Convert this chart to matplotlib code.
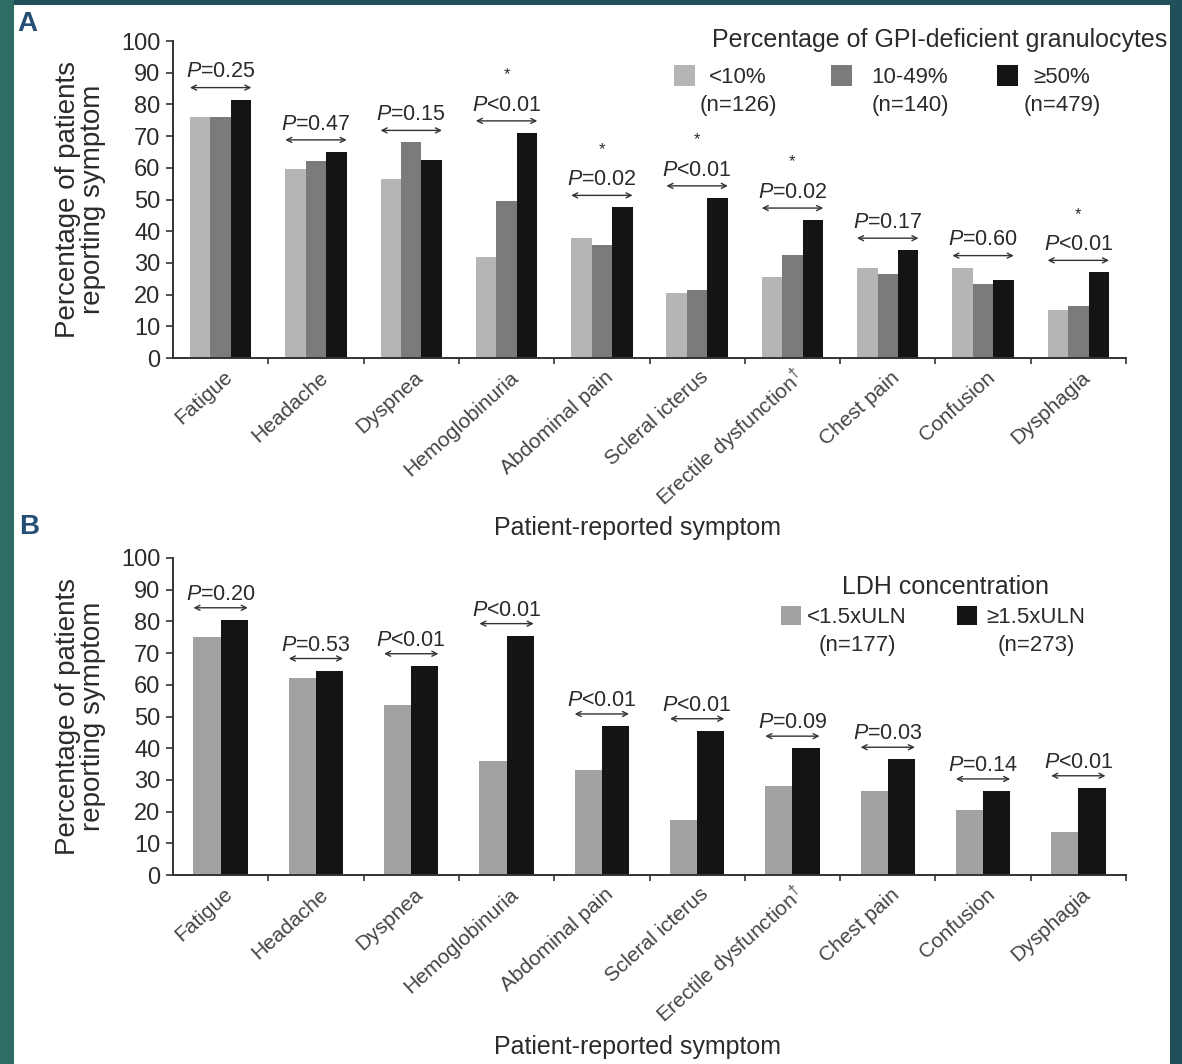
import numpy as np
import matplotlib
matplotlib.use("Agg")
import matplotlib.pyplot as plt
from matplotlib.patches import Rectangle
import matplotlib.transforms as mtransforms

plt.rcParams['font.family'] = ['Liberation Sans', 'DejaVu Sans']
plt.rcParams['mathtext.fontset'] = 'custom'
plt.rcParams['mathtext.rm'] = 'Liberation Sans'
plt.rcParams['mathtext.it'] = 'Liberation Sans:italic'

symptoms = ['Fatigue', 'Headache', 'Dyspnea', 'Hemoglobinuria', 'Abdominal pain',
            'Scleral icterus', r'Erectile dysfunction$^{\dagger}$', 'Chest pain',
            'Confusion', 'Dysphagia']

# panel A: % GPI-deficient granulocytes
gpi_low = [76, 59.5, 56.5, 32, 38, 20.5, 25.5, 28.5, 28.5, 15]
gpi_mid = [76, 62, 68, 49.5, 35.5, 21.5, 32.5, 26.5, 23.5, 16.5]
gpi_high = [81.5, 65, 62.5, 71, 47.5, 50.5, 43.5, 34, 24.5, 27]
pvals_a = ['=0.25', '=0.47', '=0.15', '<0.01', '=0.02', '<0.01', '=0.02', '=0.17', '=0.60', '<0.01']
star_a = [0, 0, 0, 1, 1, 1, 1, 0, 0, 1]

# panel B: LDH concentration
ldh_low = [75, 62, 53.5, 36, 33, 17.5, 28, 26.5, 20.5, 13.5]
ldh_high = [80.5, 64.5, 66, 75.5, 47, 45.5, 40, 36.5, 26.5, 27.5]
pvals_b = ['=0.20', '=0.53', '<0.01', '<0.01', '<0.01', '<0.01', '=0.09', '=0.03', '=0.14', '<0.01']

LIGHT_A = '#b5b5b5'
MID_A = '#7b7b7b'
LIGHT_B = '#a2a2a2'
BLACK = '#141414'
TXT = '#2b2b2b'

W, H = 1182, 1064
fig = plt.figure(figsize=(W / 100, H / 100), dpi=100)
fig.patch.set_facecolor('#22505a')
fig.patches.append(Rectangle((0, 0), 14 / W, 1, transform=fig.transFigure,
                             facecolor='#2e6d66', edgecolor='none', zorder=-2))
fig.patches.append(Rectangle((14 / W, 0), (1170 - 14) / W, (H - 5) / H, transform=fig.transFigure,
                             facecolor='white', edgecolor='none', zorder=-1))


def fx(px):
    return px / W


def fy(py):
    return 1 - py / H


def setup_axes(ax):
    ax.set_facecolor('none')
    ax.set_xlim(-0.5, 9.5)
    ax.set_ylim(0, 100)
    ax.spines['top'].set_visible(False)
    ax.spines['right'].set_visible(False)
    for s in ['left', 'bottom']:
        ax.spines[s].set_linewidth(1.4)
        ax.spines[s].set_color('#333333')
    ax.set_yticks(np.arange(0, 101, 10))
    ax.tick_params(axis='y', length=5, width=1.2, color='#333333', labelsize=17,
                   labelcolor=TXT, pad=4)
    x = np.arange(len(symptoms))
    ax.set_xticks(x, symptoms, rotation=42, ha='right', va='center', rotation_mode='anchor')
    ax.tick_params(axis='x', length=0, labelsize=15, labelcolor='#444444', pad=12)
    offset = mtransforms.ScaledTranslation(0.09, 0, fig.dpi_scale_trans)
    for lab in ax.get_xticklabels():
        lab.set_transform(lab.get_transform() + offset)
    ax.set_xticks(np.arange(0.5, 9.6, 1), minor=True)
    ax.tick_params(axis='x', which='minor', length=4, width=1.2, color='#333333')
    ax.set_ylabel('Percentage of patients\nreporting symptom', fontsize=20, color=TXT,
                  linespacing=0.95)
    ax.yaxis.set_label_coords(-0.07, 0.5)


def p_marks(ax, left, right, tops, pvals, gap, stars=None):
    for i in range(len(pvals)):
        ya = tops[i] + 3.8
        ax.annotate('', xy=(right[i], ya), xytext=(left[i], ya),
                    arrowprops=dict(arrowstyle='<->', lw=1.0, color='#333333',
                                    shrinkA=0, shrinkB=0, mutation_scale=9))
        ax.text((left[i] + right[i]) / 2, ya + gap, r'$\it{P}$' + pvals[i], ha='center',
                va='center', fontsize=15.5, color=TXT)
        if stars is not None and stars[i]:
            ax.text((left[i] + right[i]) / 2, ya + gap + 9.5, '*', ha='center', va='center',
                    fontsize=12, color=TXT)


x = np.arange(len(symptoms))

# ---- panel A
axA = fig.add_axes([fx(173), fy(358), fx(1126) - fx(173), fy(41) - fy(358)])
setup_axes(axA)
bw = 0.215
axA.bar(x - bw, gpi_low, bw, color=LIGHT_A)
axA.bar(x, gpi_mid, bw, color=MID_A)
axA.bar(x + bw, gpi_high, bw, color=BLACK)
topsA = np.max([gpi_low, gpi_mid, gpi_high], axis=0)
p_marks(axA, x - 1.5 * bw, x + 1.5 * bw, topsA, pvals_a, 5.0, star_a)

# legend A
fig.text(fx(1167), fy(40), 'Percentage of GPI-deficient granulocytes', ha='right', va='center',
         fontsize=18, color=TXT)
leg_a = [(674, LIGHT_A, '<10%\n(n=126)', 738),
         (831, MID_A, '10-49%\n(n=140)', 910),
         (997, BLACK, '≥50%\n(n=479)', 1062)]
for sx, col, lab, cx in leg_a:
    fig.patches.append(Rectangle((fx(sx), fy(86)), 21 / W, 21 / H, transform=fig.transFigure,
                                 facecolor=col, edgecolor='none'))
    fig.text(fx(cx), fy(67), lab, ha='center', va='top', multialignment='center',
             fontsize=16, color=TXT, linespacing=1.45)

fig.text(fx(638), fy(528), 'Patient-reported symptom', ha='center', va='center',
         fontsize=18, color=TXT)
fig.text(fx(17), fy(24), 'A', ha='left', va='center', fontsize=20, fontweight='bold',
         color='#244f74')

# ---- panel B
axB = fig.add_axes([fx(173), fy(875), fx(1126) - fx(173), fy(558) - fy(875)])
setup_axes(axB)
bw2 = 0.285
axB.bar(x - bw2 / 2, ldh_low, bw2, color=LIGHT_B)
axB.bar(x + bw2 / 2, ldh_high, bw2, color=BLACK)
topsB = np.max([ldh_low, ldh_high], axis=0)
p_marks(axB, x - bw2, x + bw2, topsB, pvals_b, 4.2)

fig.text(fx(945), fy(587), 'LDH concentration', ha='center', va='center',
         fontsize=18, color=TXT)
leg_b = [(781, LIGHT_B, '<1.5xULN\n(n=177)', 857),
         (957, BLACK, '≥1.5xULN\n(n=273)', 1036)]
for sx, col, lab, cx in leg_b:
    fig.patches.append(Rectangle((fx(sx), fy(625)), 20 / W, 19 / H, transform=fig.transFigure,
                                 facecolor=col, edgecolor='none'))
    fig.text(fx(cx), fy(607), lab, ha='center', va='top', multialignment='center',
             fontsize=16, color=TXT, linespacing=1.45)

fig.text(fx(638), fy(1047), 'Patient-reported symptom', ha='center', va='center',
         fontsize=18, color=TXT)
fig.text(fx(19), fy(527), 'B', ha='left', va='center', fontsize=20, fontweight='bold',
         color='#244f74')

fig.savefig('out.png', dpi=100, facecolor=fig.get_facecolor())
